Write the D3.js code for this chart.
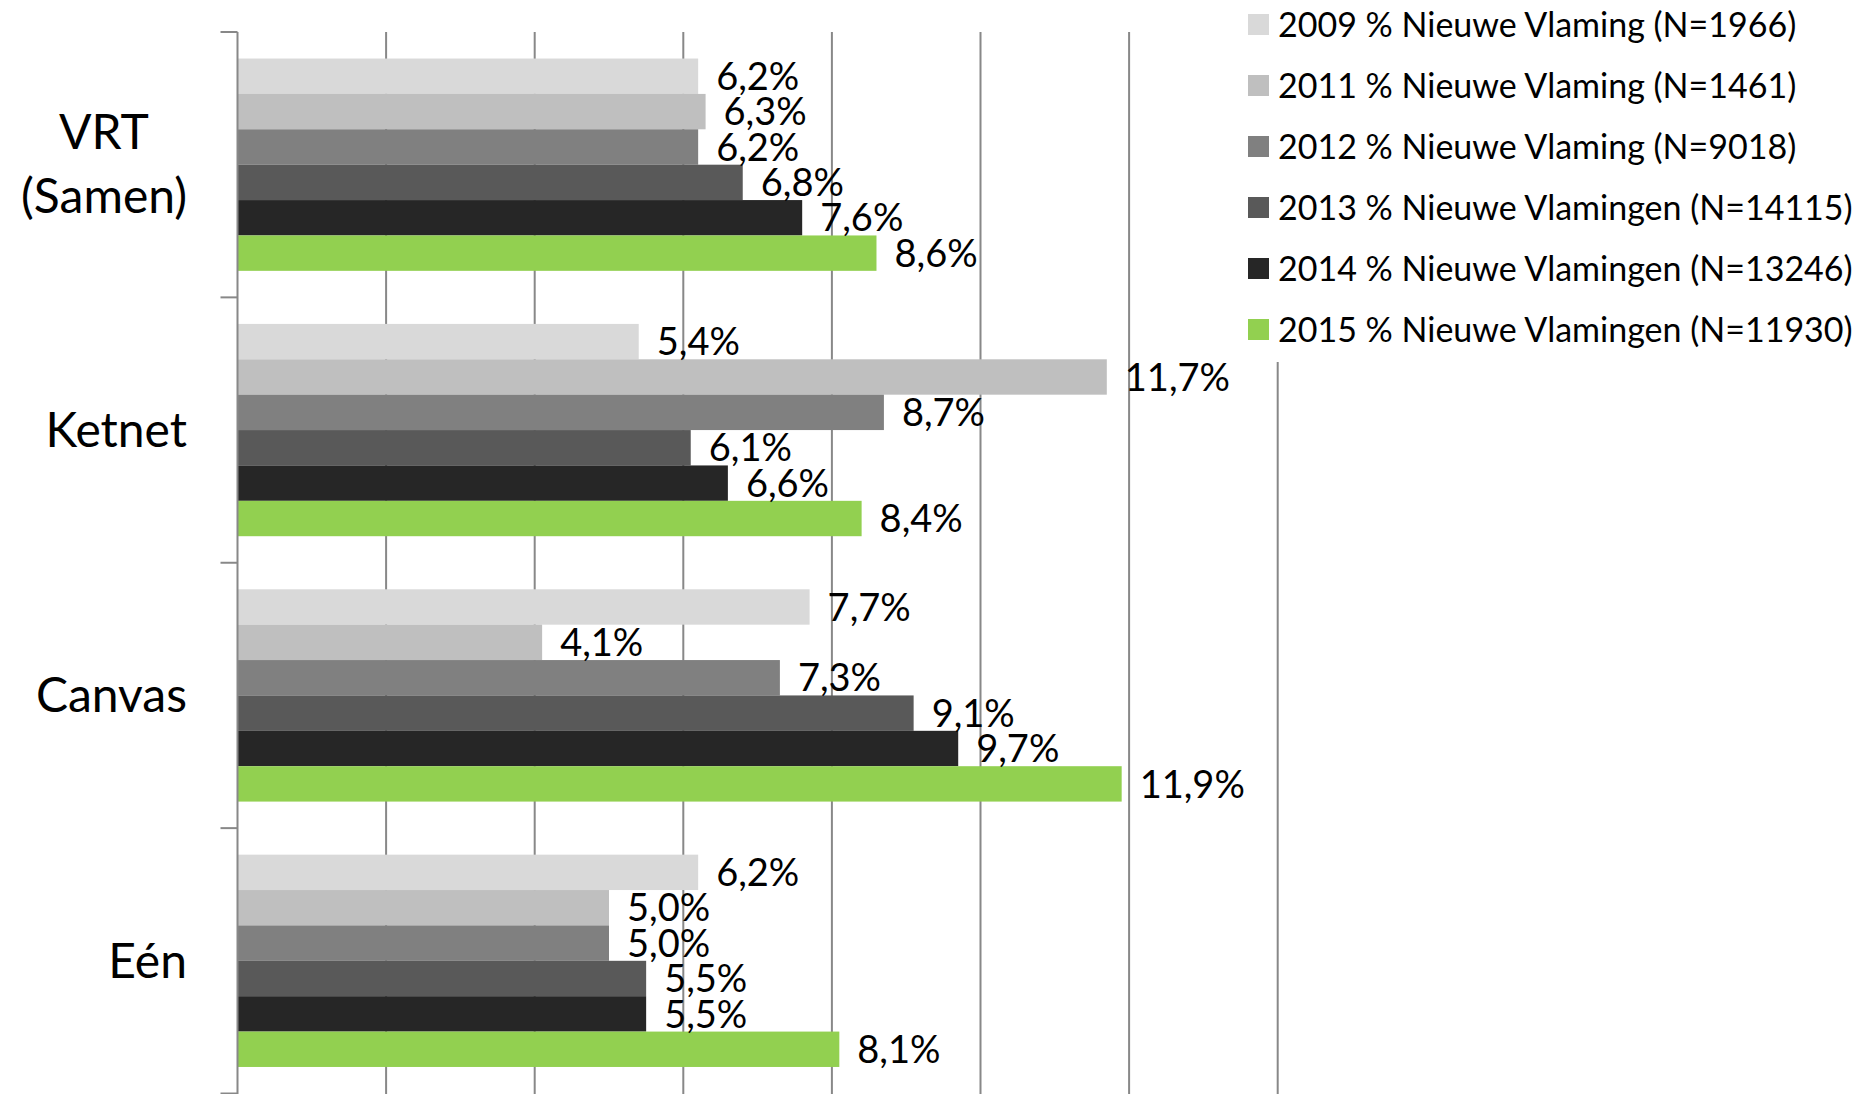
<!DOCTYPE html>
<html lang="nl">
<head>
  <meta charset="utf-8">
  <title>Nieuwe Vlamingen per zender</title>
  <style>
body {
  margin: 0;
  overflow: hidden;
  background-color: #fff;
  font-family: Lato, "Open Sans", sans-serif;
}
.grid line { stroke: #888; stroke-width: 2; }
.axis line, .axis path { stroke: #888; stroke-width: 2; }
.cat { font-size: 48px; fill: #000; }
.val { font-size: 38px; fill: #000; }
.leg { font-size: 34px; fill: #000; }
  </style>
  <script src="https://d3js.org/d3.v7.min.js" charset="utf-8"></script>
</head>
<body>
<div id="chart"></div>

<script>
// categories (top to bottom)
var channels = ['VRT\n(Samen)', 'Ketnet', 'Canvas', 'Eén'];

// series names
var seriesNames = [
  '2009 % Nieuwe Vlaming (N=1966)',
  '2011 % Nieuwe Vlaming (N=1461)',
  '2012 % Nieuwe Vlaming (N=9018)',
  '2013 % Nieuwe Vlamingen (N=14115)',
  '2014 % Nieuwe Vlamingen (N=13246)',
  '2015 % Nieuwe Vlamingen (N=11930)'
];
var seriesColors = ['#d9d9d9', '#bfbfbf', '#808080', '#595959', '#262626', '#92d050'];

// values per series, in channel order
var s2009 = [6.2, 5.4, 7.7, 6.2];
var s2011 = [6.3, 11.7, 4.1, 5.0];
var s2012 = [6.2, 8.7, 7.3, 5.0];
var s2013 = [6.8, 6.1, 9.1, 5.5];
var s2014 = [7.6, 6.6, 9.7, 5.5];
var s2015 = [8.6, 8.4, 11.9, 8.1];
var allSeries = [s2009, s2011, s2012, s2013, s2014, s2015];

// gridline values (no labels shown)
var gridTicks = [2, 4, 6, 8, 10, 12, 14];

var w = 1864, h = 1094;
var plotLeft = 237.5, plotRight = 1277.7, plotTop = 32, plotBottom = 1093.5;

var svg = d3.select('#chart').append('svg')
  .attr('width', w)
  .attr('height', h);

var x = d3.scaleLinear().domain([0, 14]).range([plotLeft, plotRight]);
var y = d3.scaleBand().domain(channels).range([plotTop, plotBottom]).paddingInner(0).paddingOuter(0);
// bars fill ~80% of each category band
var inner = d3.scaleBand().domain(d3.range(seriesNames.length))
  .range([0, y.bandwidth()]).paddingInner(0).paddingOuter(0.75);

// gridlines
svg.append('g').attr('class', 'grid')
  .selectAll('line')
  .data(gridTicks)
  .enter().append('line')
  .attr('x1', function(d) { return x(d); })
  .attr('x2', function(d) { return x(d); })
  .attr('y1', plotTop)
  .attr('y2', h);

// bars
var groups = svg.selectAll('g.channel')
  .data(channels)
  .enter().append('g')
  .attr('class', 'channel')
  .attr('transform', function(d) { return 'translate(0,' + y(d) + ')'; });

groups.selectAll('rect')
  .data(function(d, ci) { return allSeries.map(function(s, si) { return {si: si, v: s[ci]}; }); })
  .enter().append('rect')
  .attr('x', x(0))
  .attr('y', function(d) { return inner(d.si); })
  .attr('width', function(d) { return x(d.v) - x(0); })
  .attr('height', inner.bandwidth())
  .attr('fill', function(d) { return seriesColors[d.si]; });

// category axis
var axis = svg.append('g').attr('class', 'axis');
axis.append('line')
  .attr('x1', plotLeft).attr('x2', plotLeft)
  .attr('y1', plotTop).attr('y2', h);
axis.selectAll('line.tick')
  .data(channels.concat(['end']))
  .enter().append('line')
  .attr('class', 'tick')
  .attr('x1', plotLeft - 17).attr('x2', plotLeft)
  .attr('y1', function(d, i) { return plotTop + i * y.step(); })
  .attr('y2', function(d, i) { return plotTop + i * y.step(); });

// value labels (on top of all bars)
var labelGroups = svg.selectAll('g.labels')
  .data(channels)
  .enter().append('g')
  .attr('class', 'labels')
  .attr('transform', function(d) { return 'translate(0,' + y(d) + ')'; });

labelGroups.selectAll('text.val')
  .data(function(d, ci) { return allSeries.map(function(s, si) { return {si: si, v: s[ci]}; }); })
  .enter().append('text')
  .attr('class', 'val')
  .attr('x', function(d) { return x(d.v) + 18; })
  .attr('y', function(d) { return inner(d.si) + inner.bandwidth() / 2; })
  .attr('dy', '0.36em')
  .text(function(d) { return d.v.toFixed(1).replace('.', ',') + '%'; });

// category labels
labelGroups.each(function(d) {
  var lines = d.split('\n');
  var g = d3.select(this);
  var cy = y.bandwidth() / 2;
  var lh = 64;
  var t = g.append('text').attr('class', 'cat')
    .attr('text-anchor', lines.length > 1 ? 'middle' : 'end');
  lines.forEach(function(l, i) {
    t.append('tspan')
      .attr('x', 0)
      .attr('y', cy + (i - (lines.length - 1) / 2) * lh)
      .attr('dy', '0.35em')
      .text(l);
  });
  if (lines.length > 1) {
    // centre the block, right edge on the label column
    var bw = t.node().getBBox().width;
    t.selectAll('tspan').attr('x', 187 - bw / 2);
  } else {
    t.selectAll('tspan').attr('x', 187);
  }
});

// legend
var legend = svg.append('g').attr('class', 'legend');
legend.append('rect')
  .attr('x', 1240).attr('y', 0)
  .attr('width', w - 1240).attr('height', 362)
  .attr('fill', '#fff');

var rows = legend.selectAll('g.row')
  .data(seriesNames)
  .enter().append('g')
  .attr('class', 'row')
  .attr('transform', function(d, i) { return 'translate(1248,' + (24.5 + i * 61) + ')'; });

rows.append('rect')
  .attr('x', 0).attr('y', -10.5)
  .attr('width', 21).attr('height', 21)
  .attr('fill', function(d, i) { return seriesColors[i]; });

rows.append('text')
  .attr('class', 'leg')
  .attr('x', 30)
  .attr('dy', '0.36em')
  .text(function(d) { return d; });
</script>
</body>
</html>
